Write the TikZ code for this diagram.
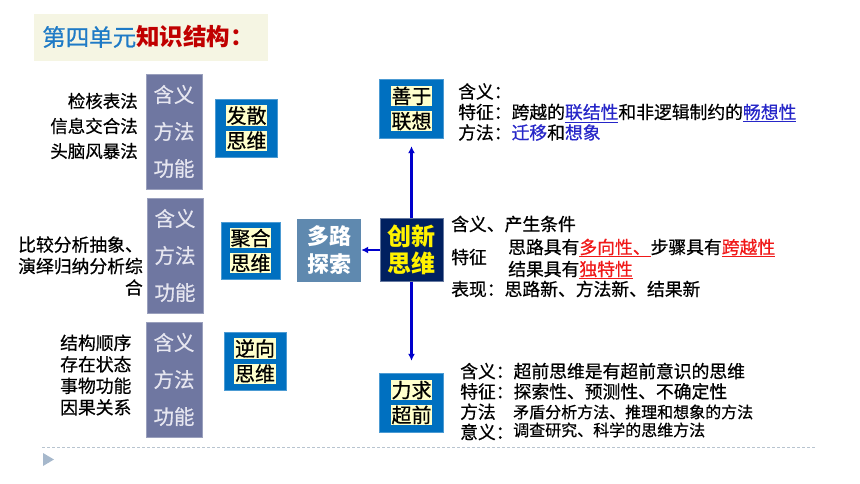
\documentclass[tikz,border=0pt]{standalone}
\usepackage{fontspec}
\setmainfont{Noto Sans CJK SC}[UprightFeatures={FakeBold=0.6}]
\usetikzlibrary{arrows.meta}

\definecolor{titlebg}{HTML}{F5F5E3}
\definecolor{titleblue}{HTML}{1E7AC6}
\definecolor{titlered}{HTML}{C00000}
\definecolor{grayfill}{HTML}{6F77A1}
\definecolor{graytext}{HTML}{E6E6F0}
\definecolor{boxblue}{HTML}{0070C0}
\definecolor{hlyellow}{HTML}{FFFFCC}
\definecolor{pathblue}{HTML}{5F89AF}
\definecolor{navy}{HTML}{002060}
\definecolor{arrowblue}{HTML}{0000CC}
\definecolor{textblue}{HTML}{2626C8}
\definecolor{textred}{HTML}{F01818}
\definecolor{dashgray}{HTML}{B8C4D0}
\definecolor{tribg}{HTML}{A6B8CC}

\newcommand\hlbox[1]{{\setlength\fboxsep{0.8pt}\colorbox{hlyellow}{#1}}}
\newcommand\blu[1]{\textcolor{textblue}{#1}}
\newcommand\rd[1]{\textcolor{textred}{\underline{#1}}}

\begin{document}
\begin{tikzpicture}[x=1pt, y=-1pt,
    graybox/.style={fill=grayfill, draw=grayfill!70!white, text=graytext, minimum width=56pt, minimum height=115pt, align=center, inner sep=0pt, font=\fontsize{20.5}{37}\selectfont},
    bluebox/.style={fill=boxblue, draw=boxblue!70!white, minimum width=62pt, minimum height=58pt, align=center, inner sep=0pt, font=\fontsize{20}{25}\selectfont},
    pathbox/.style={fill=pathblue, text=white, minimum width=64pt, minimum height=63pt, align=center, inner sep=0pt, font=\bfseries\fontsize{22}{28}\selectfont},
    corebox/.style={fill=navy, draw=navy!60!white, text=yellow, minimum width=63pt, minimum height=63pt, align=center, inner sep=0pt, font=\bfseries\fontsize{24}{27}\selectfont},
    notetext/.style={inner sep=0pt, font=\fontsize{17.8}{21.5}\selectfont},
    conn/.style={draw=arrowblue, line width=2.2pt, -{Latex[length=7pt,width=7pt]}}]
    \useasboundingbox (0,0) rectangle (860,483);

    % タイトル
    \node[fill=titlebg, anchor=west, minimum height=47pt, text width=218pt, inner xsep=8pt, align=left, font=\fontsize{23.5}{28}\selectfont] (title) at (34,37)
      {\textcolor{titleblue}{第四单元}\textcolor{titlered}{\bfseries 知识结构：}};

    % 左の列
    \node[graybox] (g1) at (174,131.5) {含义\\方法\\功能};
    \node[graybox] (g2) at (175,255.5) {含义\\方法\\功能};
    \node[graybox] (g3) at (174,379.5) {含义\\方法\\功能};

    \node[notetext, anchor=east, align=right, font=\fontsize{17.5}{25}\selectfont] (m1) at (138,126) {检核表法\\信息交合法\\头脑风暴法};
    \node[notetext, anchor=east, align=right] (m2) at (143,266) {比较分析抽象、\\演绎归纳分析综\\合};
    \node[notetext, anchor=west, align=left] (m3) at (60,375) {结构顺序\\存在状态\\事物功能\\因果关系};

    % 思维の種類
    \node[bluebox] (fs) at (246.5,128) {\hlbox{发散}\\\hlbox{思维}};
    \node[bluebox, minimum width=59pt, minimum height=57pt] (jh) at (250.5,250.5) {\hlbox{聚合}\\\hlbox{思维}};
    \node[bluebox] (nx) at (255,361) {\hlbox{逆向}\\\hlbox{思维}};
    \node[pathbox] (dl) at (329,250) {多路\\探索};
    \node[corebox] (cx) at (411.5,250) {创新\\思维};
    \node[bluebox, minimum width=64pt, minimum height=59pt] (sy) at (411.5,108.5) {\hlbox{善于}\\\hlbox{联想}};
    \node[bluebox, minimum width=64pt, minimum height=59pt] (lq) at (411.5,402.5) {\hlbox{力求}\\\hlbox{超前}};

    % 矢印
    \draw[conn] (cx.west) -- (dl.east);
    \draw[conn, shorten >=8pt] (cx.north) -- (sy.south);
    \draw[conn, shorten >=12pt] (cx.south) -- (lq.north);

    % 右の説明
    \node[notetext, anchor=west, align=left, font=\fontsize{17.8}{20.5}\selectfont] (r1) at (458,112)
      {含义：\\特征：跨越的\blu{\underline{联结性}}和非逻辑制约的\blu{\underline{畅想性}}\\方法：\blu{迁移}和\blu{想象}};
    \node[notetext, anchor=west] (r2a) at (451,224) {含义、产生条件};
    \node[notetext, anchor=west] (r2b) at (451,257) {特征};
    \node[notetext, anchor=west, align=left, font=\fontsize{17.8}{22}\selectfont] (r2c) at (508,259)
      {思路具有\rd{多向性、}步骤具有\rd{跨越性}\\结果具有\rd{独特性}};
    \node[notetext, anchor=west] (r2d) at (451,289) {表现：思路新、方法新、结果新};
    \node[notetext, anchor=west, align=left, font=\fontsize{17.8}{20.3}\selectfont] (r3a) at (460,401.5)
      {含义：超前思维是有超前意识的思维\\特征：探索性、预测性、不确定性\\方法\\意义：};
    \node[notetext, anchor=west, align=left, font=\fontsize{16}{18}\selectfont] (r3b) at (513,421)
      {矛盾分析方法、推理和想象的方法\\调查研究、科学的思维方法};

    % 下の線
    \draw[dashgray, dash pattern=on 3pt off 2pt] (42,447) -- (815,447);
    \fill[tribg] (43,453) -- (43,466) -- (54,459.5) -- cycle;
  \end{tikzpicture}
\end{document}
